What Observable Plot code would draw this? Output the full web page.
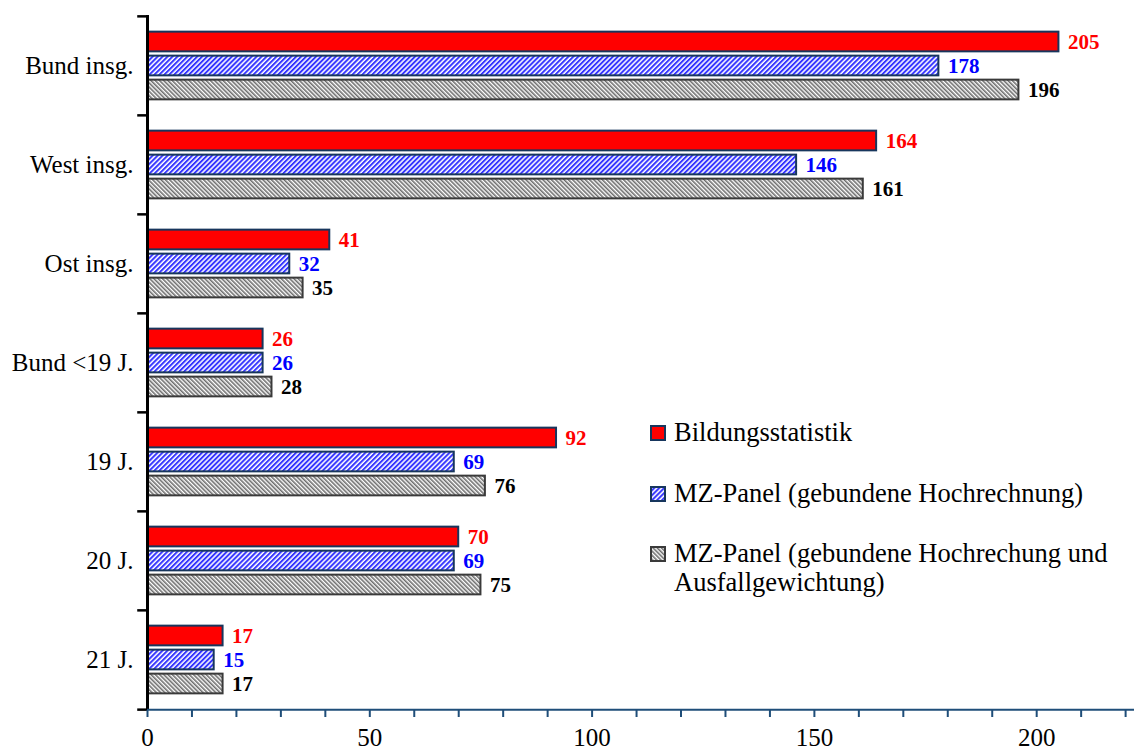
<!DOCTYPE html>
<html><head><meta charset="utf-8">
<script src="https://cdn.jsdelivr.net/npm/d3@7"></script>
<script src="https://cdn.jsdelivr.net/npm/@observablehq/plot@0.6"></script>
<style>
body{margin:0;background:#fff;}
#wrap{position:relative;width:1135px;height:751px;font-family:"Liberation Serif","Times New Roman",serif;}
.lg{position:absolute;font-size:26.5px;line-height:29px;color:#000;white-space:nowrap;}
</style>
</head><body>
<div id="wrap">
<svg width="0" height="0" style="position:absolute">
  <defs>
    <pattern id="hatchBlue" width="3.5" height="3.5" patternUnits="userSpaceOnUse" patternTransform="rotate(45)">
      <rect width="3.5" height="3.5" fill="#ffffff"/>
      <rect width="2" height="3.5" fill="#3535ff"/>
    </pattern>
    <pattern id="hatchGray" width="3" height="3" patternUnits="userSpaceOnUse" patternTransform="rotate(-45)">
      <rect width="3" height="3" fill="#ffffff"/>
      <rect width="1.6" height="3" fill="#6e6e6e"/>
    </pattern>
  </defs>
</svg>
<div id="chart"></div>
</div>
<script>
const categories = ["Bund insg.", "West insg.", "Ost insg.", "Bund <19 J.", "19 J.", "20 J.", "21 J."];
const seriesNames = ["Bildungsstatistik", "MZ-Panel (gebundene Hochrechnung)", "MZ-Panel (gebundene Hochrechung und Ausfallgewichtung)"];
const bildungsstatistik = [205, 164, 41, 26, 92, 70, 17];
const mzPanel = [178, 146, 32, 26, 69, 69, 15];
const mzPanelAusfall = [196, 161, 35, 28, 76, 75, 17];
const xTickLabels = [0, 50, 100, 150, 200];

const seriesValues = [bildungsstatistik, mzPanel, mzPanelAusfall];
const rows = [];
seriesNames.forEach((s, si) => categories.forEach((c, ci) => rows.push({series: s, category: c, value: seriesValues[si][ci]})));

const styles = [
  {fill: "#ff0000", stroke: "#17365d", label: "#ff0000", dy: -24},
  {fill: "url(#hatchBlue)", stroke: "#17365d", label: "#0000ff", dy: 0},
  {fill: "url(#hatchGray)", stroke: "#3a3a3a", label: "#000000", dy: 24}
];

const plotTop = 15, plotBottom = 710, W = 1135, H = 751;
const bw = (plotBottom - plotTop) / categories.length;
const barH = 20;
const inset = (bw - barH) / 2;
const navy = "#1f4e79";

const marks = [];
seriesNames.forEach((s, si) => {
  const st = styles[si];
  const data = rows.filter(r => r.series === s);
  marks.push(Plot.barX(data, {x: "value", y: "category", fill: st.fill, stroke: st.stroke, strokeWidth: 2,
    insetTop: inset, insetBottom: inset, dy: st.dy}));
  marks.push(Plot.text(data, {x: "value", y: "category", text: d => String(d.value), dy: st.dy, dx: 9,
    textAnchor: "start", fill: st.label, fontWeight: "bold", fontSize: 21}));
});

const chart = Plot.plot({
  width: W, height: H,
  marginLeft: 147, marginRight: 1, marginTop: plotTop, marginBottom: H - plotBottom,
  style: {fontFamily: '"Liberation Serif","Times New Roman",serif', background: "transparent", overflow: "visible"},
  x: {domain: [0, 222], axis: null},
  y: {domain: categories, padding: 0, axis: null},
  marks: [
    ...marks,
    Plot.ruleX([0], {stroke: "#000", strokeWidth: 3}),
    Plot.ruleY(categories, {y: d => d, dy: -bw / 2, x1: -2.2, x2: 0, stroke: "#000", strokeWidth: 2.5}),
    Plot.ruleY([categories[categories.length - 1]], {y: d => d, dy: bw / 2, x1: -2.2, x2: 0, stroke: "#000", strokeWidth: 2.5}),
    Plot.ruleY([categories[categories.length - 1]], {y: d => d, dy: bw / 2, x1: 0, x2: 222, stroke: navy, strokeWidth: 2}),
    Plot.axisX({anchor: "bottom", label: null, ticks: d3.range(0, 221, 10), tickSize: 7, tickPadding: 11,
      tickFormat: d => (xTickLabels.includes(d) ? String(d) : ""), stroke: navy, strokeWidth: 2, fill: "#000", fontSize: 25}),
    Plot.axisY({anchor: "left", label: null, tickSize: 0, tickPadding: 14, fontSize: 25, fill: "#000"})
  ]
});
document.getElementById("chart").appendChild(chart);

const wrap = document.getElementById("wrap");
const legendRows = [
  {y: 418, lines: [seriesNames[0]]},
  {y: 479, lines: [seriesNames[1]]},
  {y: 539, lines: ["MZ-Panel (gebundene Hochrechung und", "Ausfallgewichtung)"]}
];
legendRows.forEach((r, i) => {
  const sw = document.createElementNS("http://www.w3.org/2000/svg", "svg");
  sw.setAttribute("width", 16); sw.setAttribute("height", 16);
  sw.style.position = "absolute"; sw.style.left = "650px"; sw.style.top = (r.y + 7) + "px";
  const rect = document.createElementNS("http://www.w3.org/2000/svg", "rect");
  rect.setAttribute("x", 1); rect.setAttribute("y", 1); rect.setAttribute("width", 14); rect.setAttribute("height", 14);
  rect.setAttribute("fill", styles[i].fill); rect.setAttribute("stroke", styles[i].stroke); rect.setAttribute("stroke-width", 2);
  sw.appendChild(rect);
  wrap.appendChild(sw);
  const t = document.createElement("div");
  t.className = "lg"; t.style.left = "674px"; t.style.top = r.y + "px";
  t.innerHTML = r.lines.join("<br>");
  wrap.appendChild(t);
});
</script>
</body></html>
